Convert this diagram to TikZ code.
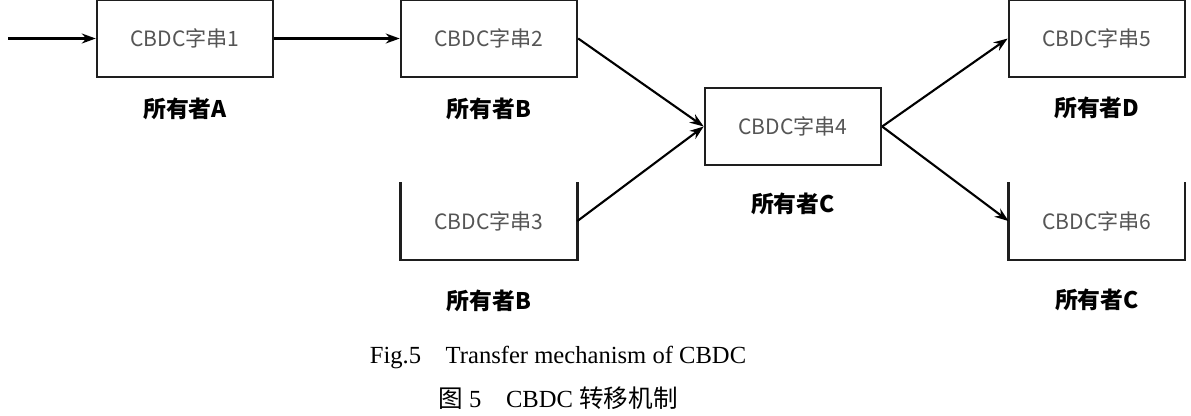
\documentclass[tikz,border=0pt]{standalone}
\usepackage{fontspec}
\setmainfont{Liberation Serif}
\newfontfamily\cjk{Noto Sans CJK SC}
\usepackage{tikz}
\usetikzlibrary{arrows, arrows.meta, positioning, calc}
\definecolor{boxText}{RGB}{85, 85, 85}
\definecolor{boxLine}{RGB}{30, 30, 30}
\tikzstyle{arrow} = [line width=1.2pt,->,>={Stealth[length=2.8mm,width=2mm]}]
\tikzstyle{basic} = [rectangle, minimum width=35.2mm, minimum height=15.4mm, text centered, text=boxText, font=\cjk\fontsize{12}{14}\selectfont]
\tikzstyle{boxline} = [draw=boxLine, line width=1.4pt]
\tikzstyle{owner} = [font=\cjk\bfseries\fontsize{13}{15}\selectfont]
\tikzstyle{caption} = [anchor=base, font=\fontsize{14}{16}\selectfont]

\begin{document}
\begin{tikzpicture}
\useasboundingbox (0,0) rectangle (238.2mm,-83mm);

\node (str1) [basic, boxline] at (37mm,-7.7mm) {CBDC字串1};
\node (str2) [basic, boxline, anchor=west, xshift=25.1mm] at(str1.east) {CBDC字串2};
\node (str4) [basic, boxline, anchor=west, xshift=25.1mm, yshift=-17.6mm] at(str2.east) {CBDC字串4};
\node (str5) [basic, boxline, anchor=west, xshift=25.1mm, yshift=17.6mm] at(str4.east) {CBDC字串5};
\node (str3) [basic, anchor=north, yshift=-20.8mm] at(str2.south) {CBDC字串3};
\node (str6) [basic, anchor=north, yshift=-20.8mm] at(str5.south) {CBDC字串6};
\draw [boxline] (str3.north west) -- (str3.south west) -- (str3.south east) -- (str3.north east);
\draw [boxline] (str6.north west) -- (str6.south west) -- (str6.south east) -- (str6.north east);

\node (ownA) [owner, yshift=-6.2mm] at(str1.south) {所有者A};
\node (ownB) [owner, yshift=-6.2mm] at(str2.south) {所有者B};
\node (ownB2) [owner, yshift=-8.2mm] at(str3.south) {所有者B};
\node (ownC) [owner, yshift=-7.6mm] at(str4.south) {所有者C};
\node (ownD) [owner, yshift=-6mm] at(str5.south) {所有者D};
\node (ownC2) [owner, yshift=-8mm] at(str6.south) {所有者C};

\coordinate (src) at (1.6mm,-7.7mm);
\draw [arrow] (src) -- (str1.west);
\draw [arrow] (str1.east) -- (str2.west);
\draw [arrow] (str2.east) -- (str4.west);
\draw [arrow] (str3.east) -- (str4.west);
\draw [arrow] (str4.east) -- (str5.west);
\draw [arrow] (str4.east) -- (str6.west);

\node (capEn) [caption] at (111.6mm,-72.6mm) {Fig.5\quad Transfer mechanism of CBDC};
\node (capZh) [caption] at (111.6mm,-81.4mm) {{\cjk 图} 5\quad CBDC {\cjk 转移机制}};

\end{tikzpicture}
\end{document}
